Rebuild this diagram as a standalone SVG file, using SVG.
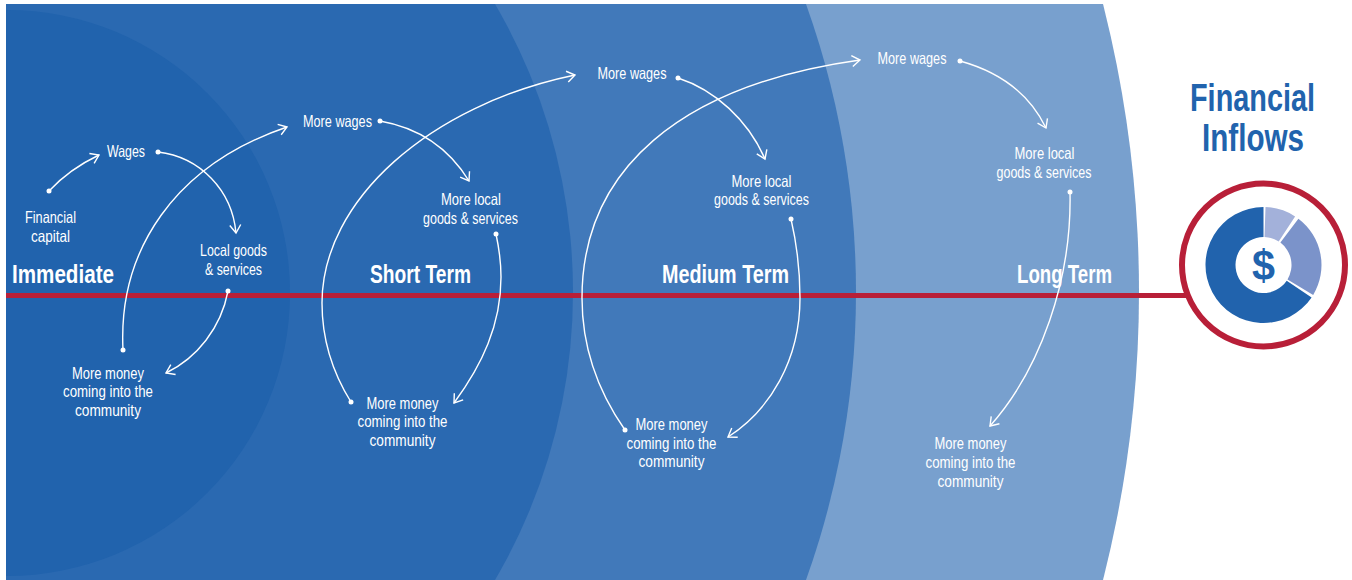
<svg xmlns="http://www.w3.org/2000/svg" width="1352" height="580" viewBox="0 0 1352 580">
<style>
text{font-family:"Liberation Sans",Arial,sans-serif}
.l{fill:#fff;font-size:16.5px;text-anchor:middle}
.t{fill:#fff;font-size:25px;font-weight:700;text-anchor:middle}
.h{fill:#2163ad;font-size:38px;font-weight:700;text-anchor:middle}
.c{fill:none;stroke:#fff;stroke-width:1.4;marker-start:url(#d);marker-end:url(#a)}
</style>
<defs>
<marker id="a" markerUnits="userSpaceOnUse" markerWidth="14" markerHeight="14" refX="11" refY="7" orient="auto"><path d="M3 1.500L11 7L3 12.500" fill="none" stroke="#fff" stroke-width="1.4"/></marker>
<marker id="d" markerUnits="userSpaceOnUse" markerWidth="6" markerHeight="6" refX="3" refY="3"><circle cx="3" cy="3" r="2.5" fill="#fff"/></marker>
<clipPath id="p"><rect x="6" y="4" width="1346" height="576"/></clipPath>
</defs>
<rect width="1352" height="580" fill="#fff"/>
<g id="bands" clip-path="url(#p)">
<circle cx="-31" cy="292" r="1170" fill="#78a0ce"/>
<circle cx="2" cy="292" r="854" fill="#4179ba"/>
<circle cx="2.300" cy="292" r="570.700" fill="#2a69b1"/>
<circle cx="7" cy="293" r="283" fill="#2163ad"/>
</g>
<rect id="axis" x="6" y="293" width="1180" height="5" fill="#b81f38"/>
<g id="connectors">
<path class="c" d="M49 191C63 176 80 164 99 155"/>
<path class="c" d="M158 152C200 157 232 190 236 233"/>
<path class="c" d="M228 291C221 328 197 358 166 373"/>
<path class="c" d="M123 350C118 250 175 165 287 127"/>
<path class="c" d="M380 121C420 128 450 150 469 181"/>
<path class="c" d="M496 234C499 248 501 262 501 277C501 325 482 365 454 403"/>
<path class="c" d="M351 402C331 370 322 335 322 303C322 200 430 105 575 75"/>
<path class="c" d="M678 78C715 90 748 120 765 159"/>
<path class="c" d="M791 219C797 245 800 272 800 298C800 360 770 410 728 437"/>
<path class="c" d="M625 430C597 390 582 345 582 298C582 170 680 85 860 60"/>
<path class="c" d="M960 61C1000 72 1030 95 1046 128"/>
<path class="c" d="M1070 192C1072 280 1040 370 990 426"/>
</g>
<g id="immediate">
<text class="t" x="63" y="283" textLength="102" lengthAdjust="spacingAndGlyphs">Immediate</text>
<text class="l" x="50.500" y="222.500" textLength="51" lengthAdjust="spacingAndGlyphs">Financial</text><text class="l" x="50.500" y="241.500" textLength="39" lengthAdjust="spacingAndGlyphs">capital</text>
<text class="l" x="126" y="157" textLength="38" lengthAdjust="spacingAndGlyphs">Wages</text>
<text class="l" x="233.500" y="256" textLength="67" lengthAdjust="spacingAndGlyphs">Local goods</text><text class="l" x="233.500" y="274.500" textLength="57" lengthAdjust="spacingAndGlyphs">&amp; services</text>
<text class="l" x="108" y="379" textLength="72" lengthAdjust="spacingAndGlyphs">More money</text><text class="l" x="108" y="397" textLength="90" lengthAdjust="spacingAndGlyphs">coming into the</text><text class="l" x="108" y="416" textLength="66" lengthAdjust="spacingAndGlyphs">community</text>
</g>
<g id="short-term">
<text class="t" x="420.500" y="283" textLength="101" lengthAdjust="spacingAndGlyphs">Short Term</text>
<text class="l" x="337.500" y="127" textLength="69" lengthAdjust="spacingAndGlyphs">More wages</text>
<text class="l" x="471" y="205" textLength="60" lengthAdjust="spacingAndGlyphs">More local</text><text class="l" x="470.500" y="224" textLength="95" lengthAdjust="spacingAndGlyphs">goods &amp; services</text>
<text class="l" x="402.500" y="409" textLength="72" lengthAdjust="spacingAndGlyphs">More money</text><text class="l" x="402.500" y="427" textLength="90" lengthAdjust="spacingAndGlyphs">coming into the</text><text class="l" x="402.500" y="446" textLength="66" lengthAdjust="spacingAndGlyphs">community</text>
</g>
<g id="medium-term">
<text class="t" x="725.500" y="283" textLength="127" lengthAdjust="spacingAndGlyphs">Medium Term</text>
<text class="l" x="632" y="79" textLength="69" lengthAdjust="spacingAndGlyphs">More wages</text>
<text class="l" x="761.500" y="187" textLength="60" lengthAdjust="spacingAndGlyphs">More local</text><text class="l" x="761.500" y="205" textLength="95" lengthAdjust="spacingAndGlyphs">goods &amp; services</text>
<text class="l" x="671.500" y="430" textLength="72" lengthAdjust="spacingAndGlyphs">More money</text><text class="l" x="671.500" y="449" textLength="90" lengthAdjust="spacingAndGlyphs">coming into the</text><text class="l" x="671.500" y="467" textLength="66" lengthAdjust="spacingAndGlyphs">community</text>
</g>
<g id="long-term">
<text class="t" x="1064.500" y="283" textLength="95" lengthAdjust="spacingAndGlyphs">Long Term</text>
<text class="l" x="912" y="64" textLength="69" lengthAdjust="spacingAndGlyphs">More wages</text>
<text class="l" x="1044.500" y="159" textLength="60" lengthAdjust="spacingAndGlyphs">More local</text><text class="l" x="1044" y="178" textLength="95" lengthAdjust="spacingAndGlyphs">goods &amp; services</text>
<text class="l" x="970.500" y="449" textLength="72" lengthAdjust="spacingAndGlyphs">More money</text><text class="l" x="970.500" y="468" textLength="90" lengthAdjust="spacingAndGlyphs">coming into the</text><text class="l" x="970.500" y="487" textLength="66" lengthAdjust="spacingAndGlyphs">community</text>
</g>
<g id="financial-inflows">
<text class="h" x="1252.500" y="111" textLength="125" lengthAdjust="spacingAndGlyphs">Financial</text><text class="h" x="1253" y="151" textLength="102" lengthAdjust="spacingAndGlyphs">Inflows</text>
<circle cx="1263.500" cy="265" r="81.500" fill="#fff" stroke="#b81f38" stroke-width="6"/>
<path d="M1265.500 207A58 58 0 0 1 1295.100 216.400L1278.700 241.500A28 28 0 0 0 1264.500 237Z" fill="#a3b1da"/>
<path d="M1298.400 218.700A58 58 0 0 1 1313.200 294.900L1287.500 279.400A28 28 0 0 0 1280.400 242.600Z" fill="#7b93ca"/>
<path d="M1311.600 297.400A58 58 0 1 1 1263.500 207V237A28 28 0 1 0 1286.700 280.700Z" fill="#2163ad"/>
<text x="1263.500" y="280" text-anchor="middle" font-size="42" font-weight="700" fill="#2163ad" textLength="23" lengthAdjust="spacingAndGlyphs">$</text>
</g>
</svg>
